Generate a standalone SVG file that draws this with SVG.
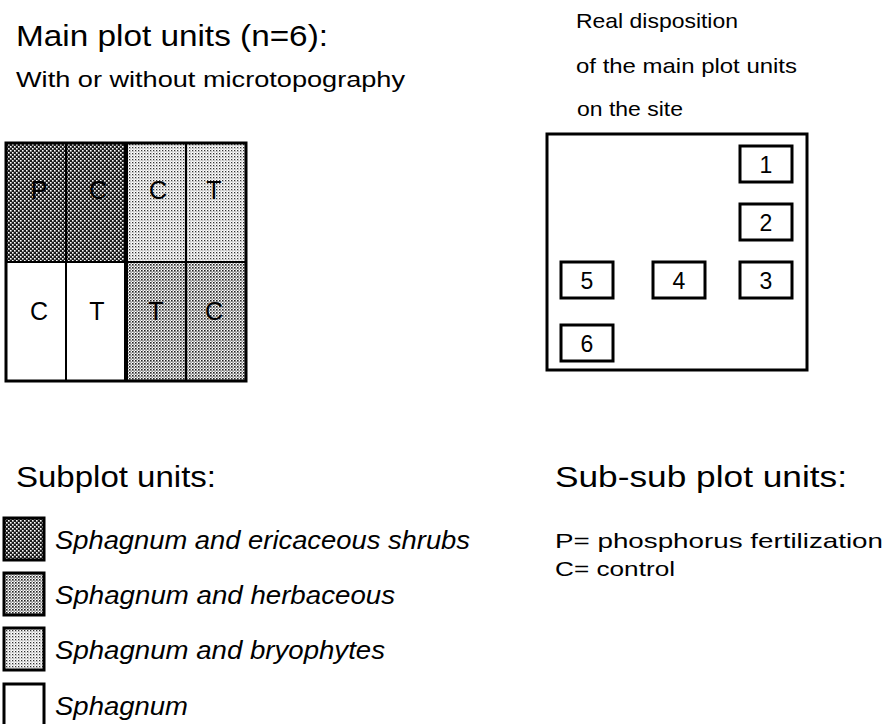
<svg xmlns="http://www.w3.org/2000/svg" width="883" height="724" viewBox="0 0 883 724">
  <style>
    .t { font-family: "Liberation Sans", Arial, Helvetica, sans-serif; fill: #000; }
    .h1 { font-size: 30px; }
    .h2 { font-size: 22px; }
    .h3 { font-size: 21px; }
    .lg { font-size: 25px; font-style: italic; }
    .cell { font-size: 25px; text-anchor: middle; }
    .num { font-size: 23px; text-anchor: middle; }
    .frame { fill: none; stroke: #000; stroke-width: 3; }
    .box { fill: #fff; stroke: #000; stroke-width: 3; }
    .thin { stroke: #000; stroke-width: 2; }
  </style>
  <defs>
    <!-- screen tones of the vegetation types -->
    <pattern id="ericaceous" width="4" height="4" patternUnits="userSpaceOnUse">
      <rect width="4" height="4" fill="#1a1a1a"/>
      <rect x="0" y="0" width="1.6" height="1.6" fill="#fff"/>
      <rect x="2" y="2" width="1.6" height="1.6" fill="#fff"/>
    </pattern>
    <pattern id="herbaceous" width="3" height="3" patternUnits="userSpaceOnUse">
      <rect width="3" height="3" fill="#fff"/>
      <rect x="0" y="0" width="1.6" height="1.6" fill="#222"/>
      <rect x="1.5" y="1.5" width="1.2" height="1.2" fill="#444"/>
    </pattern>
    <pattern id="bryophytes" width="3" height="3" patternUnits="userSpaceOnUse">
      <rect width="3" height="3" fill="#fff"/>
      <rect x="0" y="0" width="1.3" height="1.3" fill="#333"/>
      <rect x="1.5" y="1.5" width="0.9" height="0.9" fill="#555"/>
    </pattern>
  </defs>

  <rect width="883" height="724" fill="#fff"/>

  <!-- headings -->
  <g id="headings">
    <text class="t h1" x="16" y="46" textLength="312" lengthAdjust="spacingAndGlyphs">Main plot units (n=6):</text>
    <text class="t h2" x="16" y="87" textLength="389" lengthAdjust="spacingAndGlyphs">With or without microtopography</text>
    <text class="t h3" x="576" y="28" textLength="162" lengthAdjust="spacingAndGlyphs">Real disposition</text>
    <text class="t h3" x="576" y="73" textLength="221" lengthAdjust="spacingAndGlyphs">of the main plot units</text>
    <text class="t h3" x="577" y="116" textLength="106" lengthAdjust="spacingAndGlyphs">on the site</text>
    <text class="t h1" x="16" y="487" textLength="200" lengthAdjust="spacingAndGlyphs">Subplot units:</text>
    <text class="t h1" x="555" y="487" textLength="292" lengthAdjust="spacingAndGlyphs">Sub-sub plot units:</text>
    <text class="t h3" x="555" y="548" textLength="328" lengthAdjust="spacingAndGlyphs">P= phosphorus fertilization</text>
    <text class="t h3" x="555" y="576" textLength="120" lengthAdjust="spacingAndGlyphs">C= control</text>
  </g>

  <!-- main plot unit: 2 x 4 cells -->
  <g id="main-plot">
    <rect x="6" y="143" width="120" height="119" fill="url(#ericaceous)"/>
    <rect x="126" y="143" width="120" height="119" fill="url(#bryophytes)"/>
    <rect x="6" y="262" width="120" height="119" fill="#fff"/>
    <rect x="126" y="262" width="120" height="119" fill="url(#herbaceous)"/>
    <line class="thin" x1="66" y1="143" x2="66" y2="381"/>
    <line class="thin" x1="186" y1="143" x2="186" y2="381"/>
    <line class="thin" x1="6" y1="262" x2="246" y2="262"/>
    <line x1="126" y1="143" x2="126" y2="381" stroke="#000" stroke-width="4"/>
    <rect class="frame" x="6" y="143" width="240" height="238"/>
    <text class="t cell" x="39" y="199">P</text>
    <text class="t cell" x="98" y="199">C</text>
    <text class="t cell" x="158" y="199">C</text>
    <text class="t cell" x="214" y="199">T</text>
    <text class="t cell" x="39" y="320">C</text>
    <text class="t cell" x="97" y="320">T</text>
    <text class="t cell" x="156" y="320">T</text>
    <text class="t cell" x="214" y="320">C</text>
  </g>

  <!-- site map -->
  <g id="site">
    <rect class="frame" x="547" y="134" width="260" height="236"/>
  </g>
  <g id="unit-1"><rect class="box" x="740" y="146" width="52" height="36"/><text class="t num" x="766" y="173">1</text></g>
  <g id="unit-2"><rect class="box" x="740" y="204" width="52" height="36"/><text class="t num" x="766" y="231">2</text></g>
  <g id="unit-3"><rect class="box" x="740" y="262" width="52" height="36"/><text class="t num" x="766" y="289">3</text></g>
  <g id="unit-4"><rect class="box" x="653" y="262" width="52" height="36"/><text class="t num" x="679" y="289">4</text></g>
  <g id="unit-5"><rect class="box" x="561" y="262" width="52" height="36"/><text class="t num" x="587" y="289">5</text></g>
  <g id="unit-6"><rect class="box" x="561" y="325" width="52" height="36"/><text class="t num" x="587" y="352">6</text></g>

  <!-- legend -->
  <g id="legend">
    <rect class="box" x="4" y="518" width="40" height="42" style="fill:url(#ericaceous)"/>
    <text class="t lg" x="55" y="549" textLength="415" lengthAdjust="spacingAndGlyphs">Sphagnum and ericaceous shrubs</text>
    <rect class="box" x="4" y="573" width="40" height="42" style="fill:url(#herbaceous)"/>
    <text class="t lg" x="55" y="604" textLength="340" lengthAdjust="spacingAndGlyphs">Sphagnum and herbaceous</text>
    <rect class="box" x="4" y="628" width="40" height="42" style="fill:url(#bryophytes)"/>
    <text class="t lg" x="55" y="659" textLength="330" lengthAdjust="spacingAndGlyphs">Sphagnum and bryophytes</text>
    <rect class="box" x="4" y="684" width="40" height="42"/>
    <text class="t lg" x="55" y="715" textLength="133" lengthAdjust="spacingAndGlyphs">Sphagnum</text>
  </g>

  <g id="connectors"/>
</svg>
